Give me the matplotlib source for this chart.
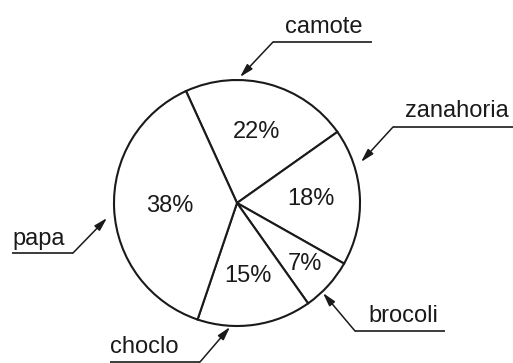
import matplotlib.pyplot as plt

# data
labels = ['camote', 'zanahoria', 'brocoli', 'choclo', 'papa']
values = [22, 18, 7, 15, 38]

# layout in pixels (y down, from the picture)
W, H = 513, 363
cx, cy, r = 237, 203, 123

# label: (text x, baseline y, underline x0, x1, underline y, elbow x, tip x, tip y)
callouts = {
    'camote':    (285, 33, 273, 372, 42, 273, 240, 77),
    'zanahoria': (405, 117, 393, 513, 127, 393, 361, 162),
    'brocoli':   (368, 322, 355, 445, 331, 355, 323, 293),
    'choclo':    (110, 353, 110, 200, 362, 200, 230, 327),
    'papa':      (12, 245, 12, 73, 253, 73, 107, 218),
}
# distance of the percent text from the centre, as share of radius
pct_dist = {'brocoli': 0.74, 'papa': 0.55}

plt.rcParams['font.family'] = ['Liberation Sans', 'DejaVu Sans']
ink = '#1a1a1a'

fig = plt.figure(figsize=(W / 100, H / 100), dpi=100)
ax = fig.add_axes([0, 0, 1, 1])

wedges, texts, autotexts = ax.pie(
    values, center=(cx, H - cy), radius=r,
    startangle=114.5, counterclock=False,
    colors=['white'] * len(values),
    wedgeprops=dict(edgecolor=ink, linewidth=1.5),
    autopct='%d%%', pctdistance=0.6,
    textprops=dict(fontsize=17, color=ink),
)
for name, t in zip(labels, autotexts):
    if name in pct_dist:
        k = pct_dist[name] / 0.6
        x, y = t.get_position()
        t.set_position((cx + (x - cx) * k, (H - cy) + (y - (H - cy)) * k))

for name in labels:
    tx, ty, ux0, ux1, uy, ex, px, py = callouts[name]
    ax.text(tx, H - ty, name, fontsize=17, color=ink, va='baseline', ha='left')
    ax.plot([ux0, ux1], [H - uy, H - uy], color=ink, linewidth=1.2, solid_capstyle='butt')
    ax.annotate('', xy=(px, H - py), xytext=(ex, H - uy),
                arrowprops=dict(arrowstyle='-|>,head_length=0.8,head_width=0.22',
                                color=ink, linewidth=1.1, shrinkA=0, shrinkB=0))

ax.set_xlim(0, W)
ax.set_ylim(0, H)
ax.set_aspect('equal')
ax.axis('off')

plt.savefig('out.png', dpi=100)
